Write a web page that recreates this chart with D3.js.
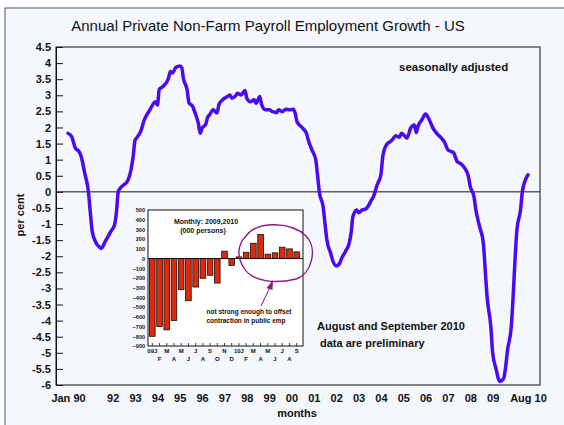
<!DOCTYPE html>
<html>
<head>
<meta charset="utf-8">
<script src="https://cdn.jsdelivr.net/npm/d3@7"></script>
<style>
  body { margin: 0; background: #fff; }
  text { font-family: "Liberation Sans", Arial, sans-serif; fill: #111; }
</style>
</head>
<body>
<div class="vis-payroll"></div>
<script>
// annual % change, private non-farm payrolls
var months = ["1990-01","1990-03","1990-05","1990-07","1990-08","1990-10","1990-12",
  "1991-01","1991-02","1991-04","1991-06","1991-07","1991-09","1991-11","1991-12",
  "1992-02","1992-03","1992-04","1992-05","1992-07","1992-09","1992-11","1992-12",
  "1993-01","1993-02","1993-04","1993-06","1993-09","1993-12",
  "1994-01","1994-02","1994-04","1994-07","1994-08","1994-09","1994-11",
  "1995-01","1995-02","1995-03","1995-05","1995-06","1995-08","1995-09","1995-11","1995-12",
  "1996-01","1996-03","1996-04","1996-05","1996-07","1996-09","1996-10","1996-12",
  "1997-02","1997-04","1997-05","1997-07","1997-08","1997-10","1997-12",
  "1998-01","1998-03","1998-05","1998-06","1998-08","1998-09","1998-11",
  "1999-01","1999-03","1999-05","1999-06","1999-08","1999-10","1999-12",
  "2000-02","2000-03","2000-04","2000-07","2000-09","2000-10","2000-12",
  "2001-02","2001-03","2001-04","2001-06","2001-07","2001-08","2001-10","2001-11",
  "2002-01","2002-03","2002-04","2002-06","2002-08","2002-09","2002-10","2002-12",
  "2003-01","2003-03","2003-05","2003-06","2003-08","2003-09","2003-11",
  "2004-01","2004-02","2004-04","2004-06","2004-07","2004-09","2004-11","2004-12",
  "2005-02","2005-03","2005-05","2005-07","2005-08","2005-09","2005-11",
  "2006-01","2006-03","2006-05","2006-07","2006-09","2006-11",
  "2007-01","2007-03","2007-04","2007-06","2007-08","2007-10","2007-12",
  "2008-01","2008-03","2008-04","2008-06","2008-08","2008-09","2008-10","2008-12",
  "2009-01","2009-03","2009-04","2009-05","2009-07","2009-08","2009-09","2009-11","2009-12",
  "2010-01","2010-02","2010-04","2010-05","2010-06","2010-08"];
var growth = [1.82,1.72,1.36,1.25,1.12,0.58,0.0,
  -0.65,-1.23,-1.57,-1.72,-1.75,-1.54,-1.34,-1.23,
  -1.02,-0.66,0.0,0.11,0.22,0.34,0.74,1.1,
  1.61,1.69,1.87,2.24,2.55,2.8,
  2.7,3.19,3.27,3.53,3.74,3.69,3.87,
  3.91,3.87,3.53,3.17,2.77,2.65,2.49,2.13,1.82,
  1.98,2.1,2.32,2.39,2.55,2.45,2.7,2.86,
  2.94,3.01,2.91,2.98,3.06,3.01,3.15,
  2.91,2.8,2.86,2.75,2.96,2.7,2.55,
  2.55,2.49,2.46,2.55,2.49,2.57,2.55,
  2.57,2.44,2.18,1.98,1.82,1.61,1.3,
  0.99,0.53,-0.02,-0.46,-0.97,-1.49,-1.9,-2.11,
  -2.3,-2.21,-2.06,-1.85,-1.59,-1.28,-0.77,-0.56,
  -0.65,-0.56,-0.53,-0.46,-0.25,-0.15,0.22,
  0.53,1.1,1.46,1.56,1.61,1.74,1.7,1.82,
  1.72,1.67,1.98,2.08,1.84,2.05,2.24,
  2.42,2.24,1.98,1.82,1.7,1.56,
  1.3,1.25,1.22,0.94,0.87,0.74,0.48,
  0.16,-0.15,-0.56,-1.08,-1.59,-2.42,-3.25,-4.18,
  -5.01,-5.53,-5.79,-5.89,-5.79,-5.43,-4.91,-4.18,-3.25,
  -2.11,-1.18,-0.56,0.01,0.27,0.53];

var yTicks = [4.5,4,3.5,3,2.5,2,1.5,1,0.5,0,-0.5,-1,-1.5,-2,-2.5,-3,-3.5,-4,-4.5,-5,-5.5,-6];
var xTickDates = ["1990-01","1992-01","1993-01","1994-01","1995-01","1996-01","1997-01","1998-01","1999-01",
  "2000-01","2001-01","2002-01","2003-01","2004-01","2005-01","2006-01","2007-01","2008-01","2009-01","2010-08"];
var xTickLabels = ["Jan 90","92","93","94","95","96","97","98","99",
  "00","01","02","03","04","05","06","07","08","09","Aug 10"];

// inset: monthly change, 000 persons
var insetMonths = ["09J","F","M","A","M","J","J","A","S","O","N","D","10J","F","M","A","M","J","J","A","S"];
var insetChange = [-800,-700,-734,-638,-320,-434,-293,-203,-172,-252,76,-72,17,65,158,248,45,59,117,100,69];
var insetTicks = [500,400,300,200,100,0,-100,-200,-300,-400,-500,-600,-700,-800,-900];

var W = 564, H = 425;
var parse = d3.timeParse("%Y-%m");
var series = months.map(function(m, i) { return {date: parse(m), value: growth[i]}; });

const svg = d3.select('.vis-payroll').append('svg')
    .attr("width", W)
    .attr("height", H);

// page frame
svg.append("rect").attr("x", 5).attr("y", 8).attr("width", 600).attr("height", 460)
    .attr("fill", "#f4f8fd").attr("stroke", "#555").attr("stroke-width", 1);

svg.append("text").attr("x", 268).attr("y", 31).attr("text-anchor", "middle")
    .style("font-size", "15px")
    .text("Annual Private Non-Farm Payroll Employment Growth - US");

var plot = {left: 56, right: 540, top: 47, bottom: 385};

var x = d3.scaleTime()
    .domain([parse("1990-01"), parse("2010-08")])
    .range([68, 528]);
var y = d3.scaleLinear()
    .domain([-6, 4.5])
    .range([plot.bottom, plot.top]);

svg.append("rect")
    .attr("x", plot.left).attr("y", plot.top)
    .attr("width", plot.right - plot.left).attr("height", plot.bottom - plot.top)
    .attr("fill", "none").attr("stroke", "#111").attr("stroke-width", 1);

// zero line
svg.append("line")
    .attr("x1", plot.left).attr("x2", plot.right)
    .attr("y1", y(0)).attr("y2", y(0))
    .attr("stroke", "#111").attr("stroke-width", 1);

var yAxis = svg.append("g")
    .attr("transform", "translate(" + plot.left + ",0)")
    .call(d3.axisLeft(y).tickValues(yTicks).tickSizeInner(-7).tickSizeOuter(0).tickPadding(5)
        .tickFormat(function(d) { return String(d); }));
yAxis.select(".domain").attr("stroke", "#111");
yAxis.selectAll(".tick line").attr("stroke", "#111");
yAxis.selectAll("text").style("font-size", "11px").style("font-weight", "bold")
    .style("font-family", "'Liberation Sans', Arial, sans-serif").attr("fill", "#111");

var xAxis = svg.append("g")
    .attr("transform", "translate(0," + plot.bottom + ")")
    .call(d3.axisBottom(x).tickValues(xTickDates.map(parse)).tickSize(0).tickPadding(9)
        .tickFormat(function(d, i) { return xTickLabels[i]; }));
xAxis.select(".domain").remove();
xAxis.selectAll("text").style("font-size", "11px").style("font-weight", "bold")
    .style("font-family", "'Liberation Sans', Arial, sans-serif").attr("fill", "#111");

svg.append("text").attr("x", 297).attr("y", 417).attr("text-anchor", "middle")
    .style("font-size", "11px").style("font-weight", "bold").text("months");

svg.append("text")
    .attr("transform", "translate(24,215) rotate(-90)")
    .attr("text-anchor", "middle")
    .style("font-size", "11px").style("font-weight", "bold").text("per cent");

svg.append("text").attr("x", 399).attr("y", 71)
    .style("font-size", "11.5px").style("font-weight", "bold").text("seasonally adjusted");

svg.append("text").attr("x", 317).attr("y", 330)
    .style("font-size", "11px").style("font-weight", "bold").text("August and September 2010");
svg.append("text").attr("x", 320).attr("y", 347)
    .style("font-size", "11px").style("font-weight", "bold").text("data are preliminary");

// ---- inset: monthly changes ----
var ib = {left: 148, right: 303, top: 210, bottom: 346};
var ix = d3.scaleBand()
    .domain(d3.range(insetChange.length))
    .range([149.5, 299.5])
    .paddingInner(0.22);
var iy = d3.scaleLinear()
    .domain([-900, 500])
    .range([ib.bottom, ib.top]);

svg.append("rect")
    .attr("x", ib.left).attr("y", ib.top)
    .attr("width", ib.right - ib.left).attr("height", ib.bottom - ib.top)
    .attr("fill", "#fff").attr("stroke", "#111").attr("stroke-width", 1);

svg.selectAll(".bar")
    .data(insetChange)
    .enter()
    .append("rect")
    .attr("class", "bar")
    .attr("x", function(d, i) { return ix(i); })
    .attr("width", ix.bandwidth())
    .attr("y", function(d) { return iy(Math.max(0, d)); })
    .attr("height", function(d) { return Math.abs(iy(d) - iy(0)); })
    .attr("fill", "#dc2a0e")
    .attr("stroke", "#111")
    .attr("stroke-width", 0.8);

svg.append("line")
    .attr("x1", ib.left).attr("x2", ib.right)
    .attr("y1", iy(0)).attr("y2", iy(0))
    .attr("stroke", "#111").attr("stroke-width", 1);

var iyAxis = svg.append("g")
    .attr("transform", "translate(" + ib.left + ",0)")
    .call(d3.axisLeft(iy).tickValues(insetTicks).tickSize(0).tickPadding(3));
iyAxis.select(".domain").remove();
iyAxis.selectAll("text").style("font-size", "5.5px").style("font-weight", "bold")
    .style("font-family", "'Liberation Sans', Arial, sans-serif").attr("fill", "#222");

// small ticks on the inset's bottom edge
svg.selectAll(".itick")
    .data(insetMonths)
    .enter()
    .append("line")
    .attr("class", "itick")
    .attr("x1", function(d, i) { return ix(i) + ix.bandwidth() / 2; })
    .attr("x2", function(d, i) { return ix(i) + ix.bandwidth() / 2; })
    .attr("y1", ib.bottom).attr("y2", ib.bottom - 3)
    .attr("stroke", "#111").attr("stroke-width", 0.8);

svg.selectAll(".ilab")
    .data(insetMonths)
    .enter()
    .append("text")
    .attr("class", "ilab")
    .attr("x", function(d, i) { return ix(i) + ix.bandwidth() / 2; })
    .attr("y", function(d, i) { return i % 2 === 0 ? 353 : 361; })
    .attr("text-anchor", "middle")
    .style("font-size", "6px").style("font-weight", "bold")
    .text(function(d) { return d; });

svg.append("text").attr("x", 206).attr("y", 224).attr("text-anchor", "middle")
    .style("font-size", "7px").style("font-weight", "bold").text("Monthly: 2009,2010");
svg.append("text").attr("x", 203).attr("y", 233).attr("text-anchor", "middle")
    .style("font-size", "7px").style("font-weight", "bold").text("(000 persons)");

// annotation loop + arrow
svg.append("path")
    .attr("d", "M 246,236 C 258,220 292,222 306,236 C 318,248 312,274 296,279 C 276,284 252,282 244,268 C 236,256 238,244 246,236 Z")
    .attr("fill", "none").attr("stroke", "#8a1a8e").attr("stroke-width", 1.4);
svg.append("line")
    .attr("x1", 261).attr("y1", 306).attr("x2", 270).attr("y2", 287)
    .attr("stroke", "#8a1a8e").attr("stroke-width", 1);
svg.append("path")
    .attr("d", "M 273,280 L 266.5,288 L 272.5,290 Z")
    .attr("fill", "#8a1a8e");

svg.append("text").attr("x", 249).attr("y", 314).attr("text-anchor", "middle")
    .style("font-size", "6.5px").style("font-weight", "bold").text("not strong enough to offset");
svg.append("text").attr("x", 246).attr("y", 323).attr("text-anchor", "middle")
    .style("font-size", "6.5px").style("font-weight", "bold").text("contraction in public emp");

// main line
var line = d3.line()
    .curve(d3.curveMonotoneX)
    .x(function(d) { return x(d.date); })
    .y(function(d) { return y(d.value); });

svg.append("path")
    .datum(series)
    .attr("d", line)
    .attr("fill", "none")
    .attr("stroke", "#4a0af2")
    .attr("stroke-width", 3.5)
    .attr("stroke-linejoin", "round")
    .attr("stroke-linecap", "round");
</script>
</body>
</html>
